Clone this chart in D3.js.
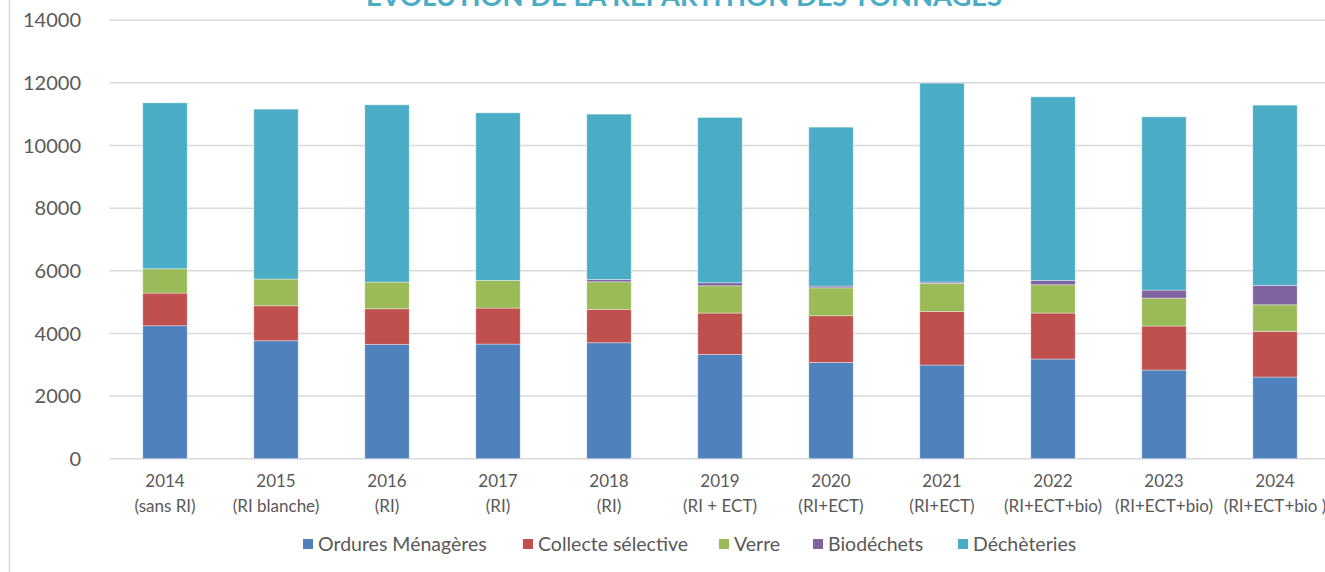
<!DOCTYPE html>
<html>
<head>
<meta charset="utf-8">
<script src="https://cdn.jsdelivr.net/npm/d3@7"></script>
<style>
  body { margin: 0; background: #ffffff; }
  svg { display: block; font-family: Lato, "Open Sans", sans-serif; }
</style>
</head>
<body>
<div id="container"></div>
<script>
let w = 1325;
let h = 572;

// data (tonnes)
let years = ["2014", "2015", "2016", "2017", "2018", "2019", "2020", "2021", "2022", "2023", "2024"];
let subLabels = ["(sans RI)", "(RI blanche)", "(RI)", "(RI)", "(RI)", "(RI + ECT)", "(RI+ECT)", "(RI+ECT)", "(RI+ECT+bio)", "(RI+ECT+bio)", "(RI+ECT+bio )"];
let ordures = [4245, 3766, 3651, 3660, 3702, 3332, 3076, 2990, 3182, 2831, 2607];
let collecte = [1043, 1117, 1136, 1149, 1066, 1318, 1488, 1714, 1468, 1404, 1459];
let verre = [776, 852, 852, 884, 881, 871, 893, 893, 903, 893, 849];
let biodechets = [0, 0, 0, 0, 76, 96, 54, 42, 140, 256, 619];
let decheteries = [5297, 5425, 5658, 5349, 5275, 5278, 5074, 6351, 5860, 5530, 5754];
let seriesNames = ["Ordures Ménagères", "Collecte sélective", "Verre", "Biodéchets", "Déchèteries"];
let seriesColors = ["#4F81BD", "#C0504D", "#9BBB59", "#8064A2", "#4BACC6"];
let yTicks = [0, 2000, 4000, 6000, 8000, 10000, 12000, 14000];

let keys = ["om", "cs", "verre", "bio", "dech"];
let rows = years.map((y, i) => ({
  year: y, sub: subLabels[i],
  om: ordures[i], cs: collecte[i], verre: verre[i], bio: biodechets[i], dech: decheteries[i]
}));

let viz = d3.select("#container")
  .append("svg")
    .attr("width", w)
    .attr("height", h)
    .style("background-color", "#ffffff");

let x = d3.scaleBand()
  .domain(years)
  .range([109.5, 1330.5])
  .paddingInner(0.6)
  .paddingOuter(0.3);

let y = d3.scaleLinear()
  .domain([0, 14000])
  .range([458.7, 20.2]);

// left border of the chart frame
viz.append("line")
  .attr("x1", 9.5).attr("x2", 9.5)
  .attr("y1", 0).attr("y2", h)
  .attr("stroke", "#D9D9D9")
  .attr("stroke-width", 1.5);

// gridlines
viz.append("g")
  .selectAll("line")
  .data(yTicks)
  .join("line")
    .attr("x1", 109.5)
    .attr("x2", w)
    .attr("y1", d => y(d))
    .attr("y2", d => y(d))
    .attr("stroke", "#D9D9D9")
    .attr("stroke-width", 1.5);

// y tick labels
viz.append("g")
  .selectAll("text")
  .data(yTicks)
  .join("text")
    .attr("x", 81)
    .attr("y", d => y(d))
    .attr("dy", "0.36em")
    .attr("text-anchor", "end")
    .attr("fill", "#595959")
    .style("font-size", "20px")
    .text(d => d);

// stacked bars
let stack = d3.stack().keys(keys);
let layers = stack(rows);

viz.append("g")
  .selectAll("g")
  .data(layers)
  .join("g")
    .attr("fill", (d, i) => seriesColors[i])
  .selectAll("rect")
  .data(d => d.filter(p => p[1] - p[0] > 0))
  .join("rect")
    .attr("x", d => x(d.data.year))
    .attr("y", d => y(d[1]))
    .attr("width", x.bandwidth())
    .attr("height", d => y(d[0]) - y(d[1]))
    .attr("stroke", "rgba(255,255,255,0.45)")
    .attr("stroke-width", 0.8);

// x labels (two lines)
let xl = viz.append("g")
  .selectAll("text")
  .data(rows)
  .join("text")
    .attr("text-anchor", "middle")
    .attr("fill", "#595959")
    .style("font-size", "17px");

xl.append("tspan")
  .attr("x", d => x(d.year) + x.bandwidth() / 2)
  .attr("y", 487)
  .text(d => d.year);

xl.append("tspan")
  .attr("x", d => x(d.year) + x.bandwidth() / 2)
  .attr("y", 512)
  .text(d => d.sub);

// legend
let legendX = [303, 523, 719, 813, 958];
let legend = viz.append("g")
  .selectAll("g")
  .data(seriesNames)
  .join("g")
    .attr("transform", (d, i) => "translate(" + legendX[i] + ",539)");

legend.append("rect")
  .attr("width", 10)
  .attr("height", 10)
  .attr("fill", (d, i) => seriesColors[i]);

legend.append("text")
  .attr("x", 15)
  .attr("y", 5)
  .attr("dy", "0.36em")
  .attr("fill", "#595959")
  .style("font-size", "19.5px")
  .text(d => d);

// title, mostly cut off at the top (as in the source image)
viz.append("text")
  .attr("x", 684)
  .attr("y", 6)
  .attr("text-anchor", "middle")
  .attr("fill", "#4BACC6")
  .style("font-size", "26px")
  .style("font-weight", "bold")
  .attr("textLength", 636)
  .attr("lengthAdjust", "spacingAndGlyphs")
  .text("ÉVOLUTION DE LA RÉPARTITION DES TONNAGES");
</script>
</body>
</html>
